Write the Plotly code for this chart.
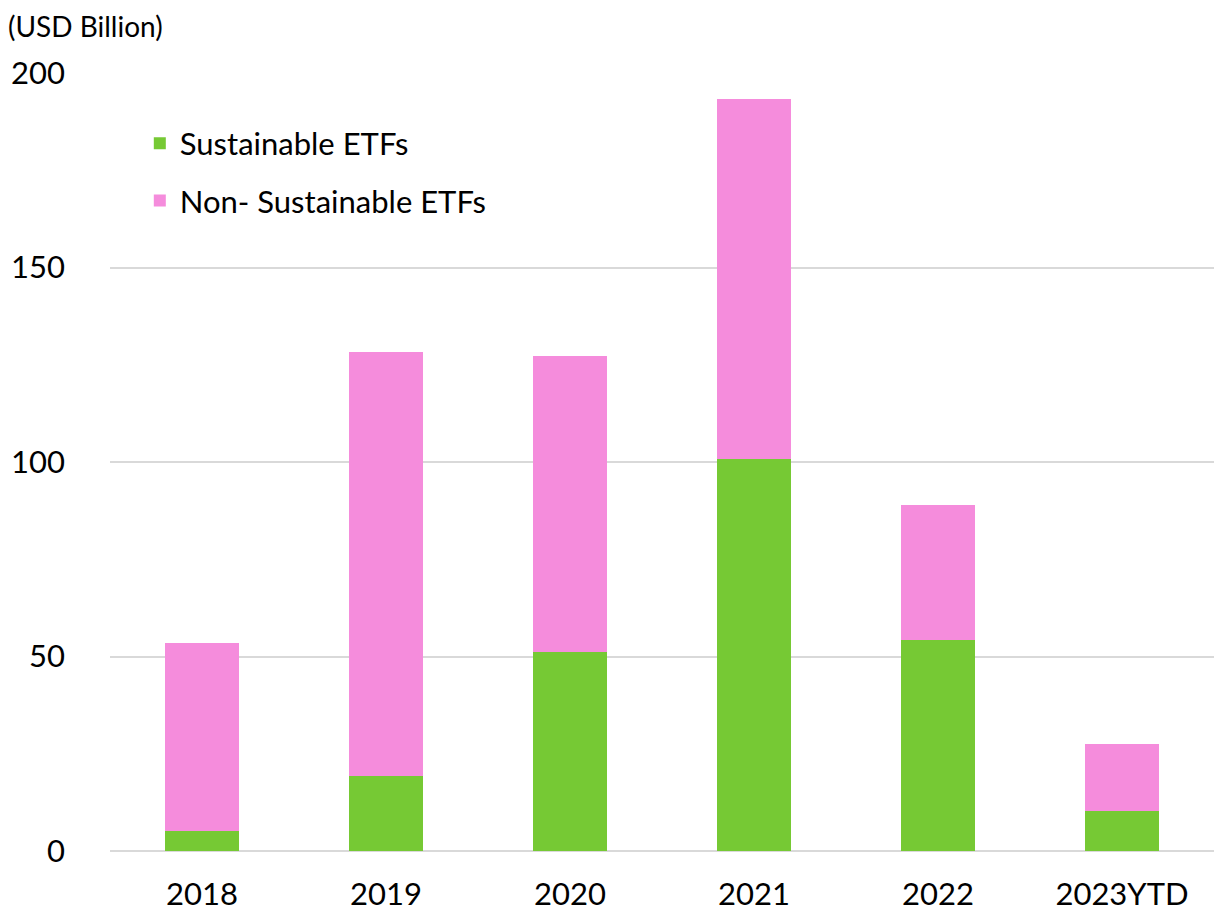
import plotly.graph_objects as go

years = ["2018", "2019", "2020", "2021", "2022", "2023YTD"]
sustainable = [5.1, 19.3, 51.2, 100.8, 54.2, 10.3]
non_sustainable = [48.4, 109.0, 76.0, 92.5, 34.7, 17.2]

FONT = "Lato, 'Open Sans', sans-serif"

fig = go.Figure()
fig.add_trace(go.Bar(x=years, y=sustainable, name="Sustainable ETFs",
                     marker=dict(color="#76C934", line_width=0),
                     legendgroup="a", width=0.4))
fig.add_trace(go.Bar(x=years, y=non_sustainable, name="Non- Sustainable ETFs",
                     marker=dict(color="#F58CDC", line_width=0),
                     legendgroup="b", width=0.4))

fig.update_layout(
    barmode="stack",
    width=1232, height=913,
    margin=dict(l=102, r=26, t=65, b=70),
    plot_bgcolor="white", paper_bgcolor="white",
    font=dict(family=FONT, color="black"),
    legend=dict(x=0.027, y=0.944, xanchor="left", yanchor="top",
                font=dict(size=31), traceorder="grouped", tracegroupgap=14,
                bgcolor="rgba(0,0,0,0)", itemwidth=30),
    xaxis=dict(tickfont=dict(size=31), showline=False, ticks="",
               ticklabelstandoff=22, automargin=False),
    yaxis=dict(range=[0, 200], dtick=50, tickfont=dict(size=31),
               showgrid=True, gridcolor="#D9D9D9", gridwidth=2,
               zeroline=True, zerolinecolor="#D9D9D9", zerolinewidth=2,
               ticks="", ticklabelstandoff=44, automargin=False),
    annotations=[dict(text="(USD Billion)", xref="paper", yref="paper",
                      x=0, y=1.0, xshift=-103, yshift=65, showarrow=False,
                      xanchor="left", yanchor="top", borderpad=0,
                      font=dict(size=28))],
)

fig.write_html("out.html")
